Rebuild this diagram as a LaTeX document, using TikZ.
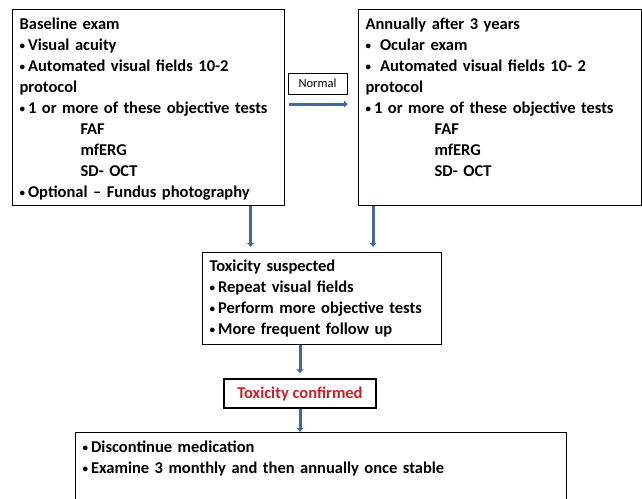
\documentclass[tikz,border=0pt]{standalone}
\usepackage{fontspec}
\setmainfont{Carlito}
\usetikzlibrary{arrows.meta}
\tikzset{>={Latex[width=8pt,length=4pt]}}
\definecolor{flowblue}{RGB}{65,105,160}
\definecolor{alertred}{RGB}{200,32,40}
\newcommand\itemdot{{\fontsize{11}{11}\selectfont\raisebox{0.3ex}{\textbullet}}\hspace*{3pt}}

\begin{document}
\begin{tikzpicture}[
  panel/.style={draw, line width=1.2pt, anchor=north west, align=left,
    inner xsep=7pt, inner ysep=4pt, text height=16pt,
    font={\bfseries\fontsize{16.5}{21}\selectfont}},
  flow/.style={->, draw=flowblue, line width=3pt, shorten >=5pt}
]

  \useasboundingbox (0,0) rectangle (642pt,-498pt);

  %% <boxes>
  \node[panel, text width=258pt, text depth=172pt] (baseline) at (12pt,-9pt)
    {Baseline exam\\
     \itemdot Visual acuity\\
     \itemdot Automated visual fields 10-2\\
     protocol\\
     \itemdot 1 or more of these objective tests\\
     \hspace*{61pt}FAF\\
     \hspace*{61pt}mfERG\\
     \hspace*{61pt}SD- OCT\\
     \itemdot Optional -- Fundus photography};
  \node[panel, text width=269pt, text depth=172pt] (annual) at (358pt,-9pt)
    {Annually after 3 years\\
     \itemdot\hspace*{6pt}Ocular exam\\
     \itemdot\hspace*{6pt}Automated visual\ fields 10- 2\\
     protocol\\
     \itemdot 1 or more of these objective tests\\
     \hspace*{69pt}FAF\\
     \hspace*{69pt}mfERG\\
     \hspace*{69pt}SD- OCT};
  \node[panel, text width=225pt, text height=15pt, text depth=69pt] (suspected) at (202pt,-252pt)
    {Toxicity suspected\\
     \itemdot Repeat visual\ fields\\
     \itemdot Perform more objective tests\\
     \itemdot More frequent follow up};
  \node[draw, line width=1.2pt, minimum width=152pt, minimum height=29pt, text=alertred,
    font={\bfseries\fontsize{16.5}{21}\selectfont}] (confirmed) at (300pt,-393.5pt)
    {Toxicity confirmed};
  \node[panel, text width=477pt, text depth=56pt] (manage) at (75pt,-432pt)
    {\itemdot Discontinue medication\\
     \itemdot Examine 3 monthly and\ then annually\ once stable};
  % </boxes>

  \node[draw, line width=1pt, minimum width=59pt, minimum height=21pt,
    font={\fontsize{12.5}{14}\selectfont}] (normal) at (317.5pt,-83.5pt) {Normal};

  \draw[flow, shorten <=4pt, shorten >=10pt] ([yshift=3.5pt]baseline.east) -- ([yshift=3.5pt]annual.west); % baseline->annual
  \draw[flow] ([xshift=102pt]baseline.south) -- ([xshift=102pt]baseline.south |- suspected.north);
  \draw[flow] ([xshift=-127pt]annual.south) -- ([xshift=-127pt]annual.south |- suspected.north);
  \draw[flow] (suspected.south -| confirmed.north) -- (confirmed.north);
  \draw[flow, shorten >=0pt] (confirmed.south) -- (confirmed.south |- manage.north);

\end{tikzpicture}
\end{document}
